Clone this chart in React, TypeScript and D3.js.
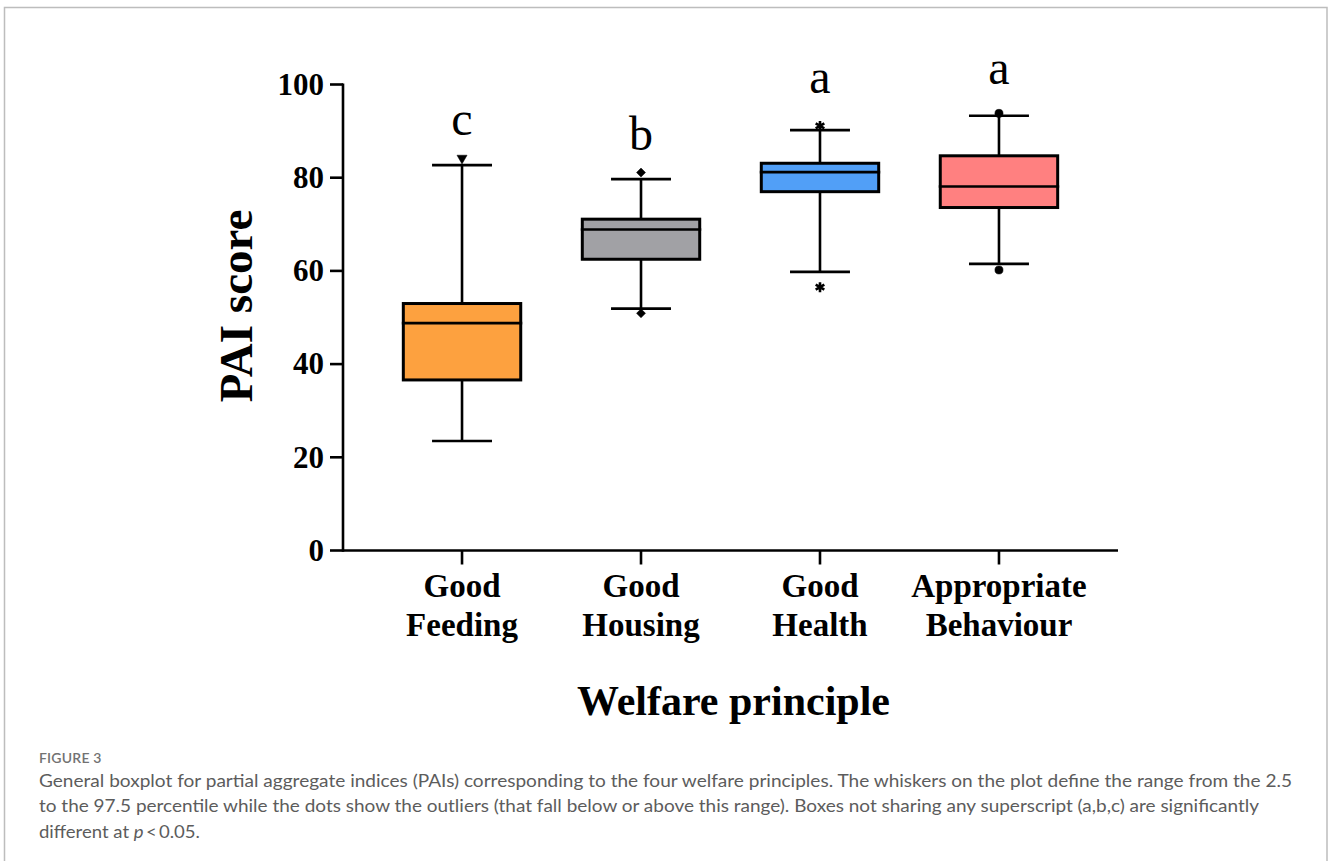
import React from "react";
import * as d3 from "d3";

// ---- data ----
const categories = ["Good Feeding", "Good Housing", "Good Health", "Appropriate Behaviour"];
const labelLines = [["Good", "Feeding"], ["Good", "Housing"], ["Good", "Health"], ["Appropriate", "Behaviour"]];
const whiskerLow = [23.5, 51.9, 59.8, 61.5];
const q1 = [36.6, 62.5, 77.0, 73.6];
const medians = [48.8, 68.9, 81.2, 78.1];
const q3 = [53.0, 71.1, 83.1, 84.7];
const whiskerHigh = [82.7, 79.7, 90.2, 93.3];
const outliers = [[84.2], [81.1, 50.9], [91.1, 56.5], [93.8, 60.2]];
const markerKinds = ["triangle", "diamond", "asterisk", "circle"];
const fills = ["#FDA13F", "#A1A1A5", "#519FF7", "#FF8080"];
const letters = ["c", "b", "a", "a"];
const letterPos = [89.2, 85.9, 98.2, 100.2];
const yTicks = [0, 20, 40, 60, 80, 100];

const captionTitle = "FIGURE 3";
const captionLines = [
  "General boxplot for partial aggregate indices (PAIs) corresponding to the four welfare principles. The whiskers on the plot define the range from the 2.5",
  "to the 97.5 percentile while the dots show the outliers (that fall below or above this range). Boxes not sharing any superscript (a,b,c) are significantly",
];

const serif = "'Liberation Serif', 'Times New Roman', serif";
const sans = "Lato, 'Open Sans', sans-serif";

export default function App() {
  const W = 1328, H = 861;
  const xLeft = 343, xRight = 1118;
  const y = d3.scaleLinear().domain([0, 100]).range([550.5, 84.5]);
  const x = d3.scalePoint<string>().domain(categories).range([xLeft, xRight]).padding(0.665);
  const step = x.step();
  const boxW = step * 0.656;
  const capW = step * 0.335;
  const sw = 2.6;

  const symPath = (kind: string) => {
    if (kind === "triangle") return d3.symbol().type(d3.symbolTriangle).size(44)();
    if (kind === "diamond") return d3.symbol().type(d3.symbolSquare).size(40)();
    if (kind === "asterisk") return d3.symbol().type(d3.symbolAsterisk).size(70)();
    return d3.symbol().type(d3.symbolCircle).size(52)();
  };
  const symRot = (kind: string) => (kind === "triangle" ? 180 : kind === "diamond" ? 45 : 0);

  return (
    <svg width={W} height={H} style={{ position: "absolute", left: 0, top: 0, background: "#fff" }}>
      <rect x={4.5} y={7.5} width={1322.5} height={H + 20} fill="#fff" stroke="#bdbdbd" strokeWidth={1.5} />

      {/* y axis */}
      <line x1={xLeft} x2={xLeft} y1={y(100) - 1} y2={y(0) + 1.3} stroke="#000" strokeWidth={sw} />
      {yTicks.map((t) => (
        <g key={t}>
          <line x1={xLeft - 13} x2={xLeft} y1={y(t)} y2={y(t)} stroke="#000" strokeWidth={sw} />
          <text x={324} y={y(t)} dy="0.33em" textAnchor="end" fontFamily={serif} fontWeight="bold" fontSize={31}>
            {t}
          </text>
        </g>
      ))}
      {/* x axis */}
      <line x1={xLeft} x2={xRight} y1={y(0)} y2={y(0)} stroke="#000" strokeWidth={sw} />
      {categories.map((c, i) => (
        <g key={c}>
          <line x1={x(c)} x2={x(c)} y1={y(0)} y2={y(0) + 14} stroke="#000" strokeWidth={sw} />
          {labelLines[i].map((ln, j) => (
            <text key={j} x={x(c)} y={597 + j * 39} textAnchor="middle" fontFamily={serif} fontWeight="bold" fontSize={33}>
              {ln}
            </text>
          ))}
        </g>
      ))}

      {/* boxes */}
      {categories.map((c, i) => {
        const cx = x(c) as number;
        return (
          <g key={c}>
            <line x1={cx} x2={cx} y1={y(whiskerHigh[i])} y2={y(q3[i])} stroke="#000" strokeWidth={sw} />
            <line x1={cx} x2={cx} y1={y(q1[i])} y2={y(whiskerLow[i])} stroke="#000" strokeWidth={sw} />
            <line x1={cx - capW / 2} x2={cx + capW / 2} y1={y(whiskerHigh[i])} y2={y(whiskerHigh[i])} stroke="#000" strokeWidth={sw} />
            <line x1={cx - capW / 2} x2={cx + capW / 2} y1={y(whiskerLow[i])} y2={y(whiskerLow[i])} stroke="#000" strokeWidth={sw} />
            <rect x={cx - boxW / 2} y={y(q3[i])} width={boxW} height={y(q1[i]) - y(q3[i])} fill={fills[i]} stroke="#000" strokeWidth={sw + 0.4} />
            <line x1={cx - boxW / 2 - 1.5} x2={cx + boxW / 2 + 1.5} y1={y(medians[i])} y2={y(medians[i])} stroke="#000" strokeWidth={sw} />
            {outliers[i].map((o, k) => (
              <path
                key={k}
                d={symPath(markerKinds[i]) as string}
                transform={`translate(${cx},${y(o)}) rotate(${symRot(markerKinds[i])})`}
                fill="#000"
                stroke="#000"
                strokeWidth={markerKinds[i] === "asterisk" ? 2.6 : 0.5}
              />
            ))}
            <text x={cx} y={y(letterPos[i])} textAnchor="middle" fontFamily={serif} fontSize={48}>
              {letters[i]}
            </text>
          </g>
        );
      })}

      {/* axis titles */}
      <text transform={`translate(252,${(y(0) + y(100)) / 2 - 11.5}) rotate(-90)`} textAnchor="middle" fontFamily={serif} fontWeight="bold" fontSize={47}>
        PAI score
      </text>
      <text x={733.5} y={715} textAnchor="middle" fontFamily={serif} fontWeight="bold" fontSize={42}>
        Welfare principle
      </text>

      {/* caption */}
      <text x={39} y={762.5} fontFamily={sans} fontWeight={600} fontSize={14} fill="#727272" letterSpacing={0.2}>
        {captionTitle}
      </text>
      <text x={39} y={786.5} fontFamily={sans} fontSize={18} fill="#5c5c5c" textLength={1253} lengthAdjust="spacingAndGlyphs">
        {captionLines[0]}
      </text>
      <text x={39} y={812} fontFamily={sans} fontSize={18} fill="#5c5c5c" textLength={1220} lengthAdjust="spacingAndGlyphs">
        {captionLines[1]}
      </text>
      <text x={39} y={837.5} fontFamily={sans} fontSize={18} fill="#5c5c5c" textLength={161} lengthAdjust="spacingAndGlyphs">
        different at <tspan fontStyle="italic">p</tspan>{"\u2009<\u20090.05."}
      </text>
    </svg>
  );
}
